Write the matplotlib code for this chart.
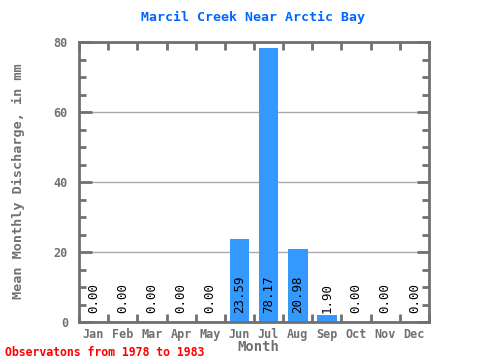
import matplotlib
matplotlib.use("Agg")
from matplotlib import pyplot as plt
from matplotlib.ticker import MultipleLocator

# Data
months = ["Jan", "Feb", "Mar", "Apr", "May", "Jun", "Jul", "Aug", "Sep", "Oct", "Nov", "Dec"]
discharge = [0.00, 0.00, 0.00, 0.00, 0.00, 23.59, 78.17, 20.98, 1.90, 0.00, 0.00, 0.00]

title = "Marcil Creek Near Arctic Bay"
ylabel = "Mean Monthly Discharge, in mm"
xlabel = "Month"
footer = "Observatons from 1978 to 1983"

axis_grey = "#707070"
mono = "DejaVu Sans Mono"

fig = plt.figure(figsize=(4.8, 3.6), dpi=100)
ax = fig.add_axes([79 / 480, 1 - 322 / 360, 350 / 480, 280 / 360])

x = list(range(len(months)))
ax.bar(x, discharge, width=0.68, color="#3399FF", zorder=2)

# Value labels, rotated, near the bottom of each column
for xi, v in zip(x, discharge):
    ax.text(xi, 2.5, f"{v:.2f}", rotation=90, ha="center", va="bottom",
            fontsize=9, family=mono, color="black", zorder=3)

ax.set_xlim(-0.5, 11.5)
ax.set_ylim(0, 80)

# Grid lines at the major y ticks
ax.yaxis.set_major_locator(MultipleLocator(20))
ax.yaxis.set_minor_locator(MultipleLocator(5))
ax.grid(axis="y", which="major", color="#aaaaaa", linewidth=1, zorder=1)

ax.set_xticks(x)
ax.set_xticklabels(months)
ax.set_xticks([i + 0.5 for i in range(-1, 12)], minor=True)
ax.tick_params(axis="x", which="major", length=0, pad=4)
ax.tick_params(axis="x", which="minor", direction="in", length=6, width=2,
               color=axis_grey, top=True, bottom=True)
ax.tick_params(axis="y", which="major", direction="in", length=9, width=2,
               color=axis_grey, left=True, right=True, pad=8)
ax.tick_params(axis="y", which="minor", direction="in", length=5, width=2,
               color=axis_grey, left=True, right=True)

for lab in ax.get_xticklabels() + ax.get_yticklabels():
    lab.set_family(mono)
    lab.set_fontweight("bold")
    lab.set_fontsize(8.5)
    lab.set_color(axis_grey)

for sp in ax.spines.values():
    sp.set_color(axis_grey)
    sp.set_linewidth(2)

fig.text(253 / 480, 1 - 17 / 360, title, ha="center", va="center", family=mono,
         fontweight="bold", fontsize=9.5, color="#0066FF")
fig.text(18 / 480, 1 - 181 / 360, ylabel, rotation=90, ha="center", va="center",
         family=mono, fontweight="bold", fontsize=9.7, color=axis_grey)
fig.text(258 / 480, 1 - 347 / 360, xlabel, ha="center", va="center",
         family=mono, fontweight="bold", fontsize=10, color=axis_grey)
fig.text(5 / 480, 1 - 352 / 360, footer, ha="left", va="center",
         family=mono, fontweight="bold", fontsize=8.3, color="#FF0000")

fig.savefig("out.png", dpi=100)
